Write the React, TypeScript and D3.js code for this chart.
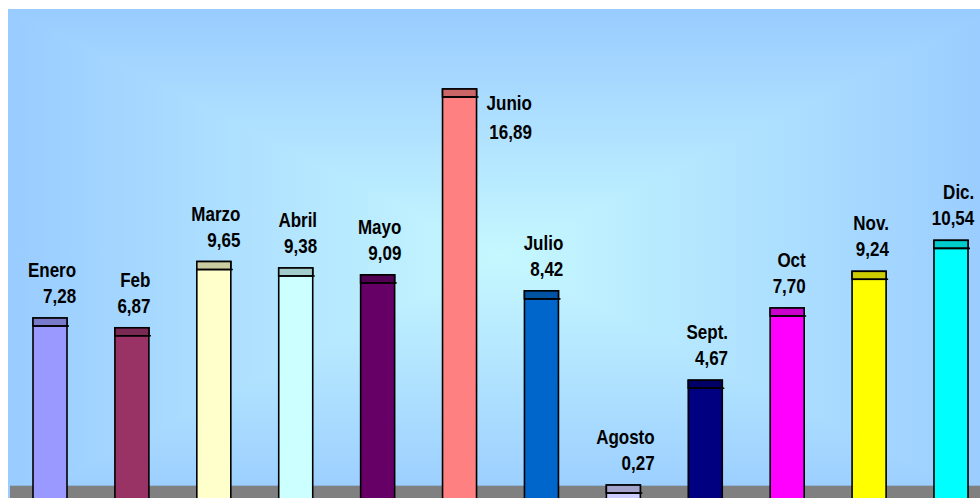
import React from "react";
import * as d3 from "d3";

const months = ["Enero", "Feb", "Marzo", "Abril", "Mayo", "Junio", "Julio", "Agosto", "Sept.", "Oct", "Nov.", "Dic."];
const values = [7.28, 6.87, 9.65, 9.38, 9.09, 16.89, 8.42, 0.27, 4.67, 7.7, 9.24, 10.54];
const colors = ["#9999FF", "#993366", "#FFFFCC", "#CCFFFF", "#660066", "#FF8080", "#0066CC", "#CCCCFF", "#000080", "#FF00FF", "#FFFF00", "#00FFFF"];

const W = 980;
const H = 498;
const FONT = "'Liberation Sans', Arial, sans-serif";
const FS = 20;
const SX = 0.85;

let ctx: CanvasRenderingContext2D | null = null;
function textWidth(s: string) {
  if (!ctx) ctx = document.createElement("canvas").getContext("2d");
  if (!ctx) return s.length * FS * 0.55;
  ctx.font = `bold ${FS}px ${FONT}`;
  return ctx.measureText(s).width * SX;
}

const fmt = (v: number) => d3.format(".2f")(v).replace(".", ",");

// background area (chart area extends past the window)
const BX0 = 8, BY0 = 9, BX1 = 995, BY1 = 505;
const CX = 500, CY = 257;
const EDGE = "#99CCFF";
const MID = "#B2E4FF";
const CENTER = "#C6F8FF";

function Stops() {
  return (
    <>
      <stop offset="0" stopColor={EDGE} />
      <stop offset="0.55" stopColor={MID} />
      <stop offset="1" stopColor={CENTER} />
    </>
  );
}

export default function App() {
  const x = d3.scalePoint<string>().domain(months).range([50, 951]);
  const y = d3.scaleLinear().domain([0, 20]).range([491.5, 491.5 - 20 * 23.83]);
  const bw = 34;
  const cap = 8;
  const maxV = d3.max(values) as number;

  return (
    <svg width={W} height={H} style={{ position: "fixed", left: 0, top: 0, display: "block" }}>
      <defs>
        <linearGradient id="gT" gradientUnits="userSpaceOnUse" x1={0} y1={BY0} x2={0} y2={CY}><Stops /></linearGradient>
        <linearGradient id="gB" gradientUnits="userSpaceOnUse" x1={0} y1={BY1} x2={0} y2={CY}><Stops /></linearGradient>
        <linearGradient id="gL" gradientUnits="userSpaceOnUse" x1={BX0} y1={0} x2={CX} y2={0}><Stops /></linearGradient>
        <linearGradient id="gR" gradientUnits="userSpaceOnUse" x1={BX1} y1={0} x2={CX} y2={0}><Stops /></linearGradient>
        <clipPath id="plotClip"><rect x={BX0} y={BY0} width={W - BX0} height={H - BY0} /></clipPath>
      </defs>
      <rect x={0} y={0} width={W} height={H} fill="#fff" />
      <g clipPath="url(#plotClip)">
        <rect x={BX0} y={BY0} width={BX1 - BX0} height={BY1 - BY0} fill={MID} />
        <polygon points={`${BX0},${BY0} ${BX1},${BY0} ${CX},${CY}`} fill="url(#gT)" stroke="url(#gT)" strokeWidth={0.6} />
        <polygon points={`${BX0},${BY1} ${BX1},${BY1} ${CX},${CY}`} fill="url(#gB)" stroke="url(#gB)" strokeWidth={0.6} />
        <polygon points={`${BX0},${BY0} ${BX0},${BY1} ${CX},${CY}`} fill="url(#gL)" stroke="url(#gL)" strokeWidth={0.6} />
        <polygon points={`${BX1},${BY0} ${BX1},${BY1} ${CX},${CY}`} fill="url(#gR)" stroke="url(#gR)" strokeWidth={0.6} />
      </g>
      <rect x={10} y={486} width={W - 10} height={H - 486} fill="#808080" />
      <line x1={10} x2={W} y1={485.5} y2={485.5} stroke="#8DB6DE" strokeWidth={1} />
      {months.map((m, i) => {
        const cx = x(m) as number;
        const top = y(values[i]);
        const left = cx - bw / 2;
        const c = d3.color(colors[i]) as d3.RGBColor;
        const dark = d3.rgb(c.r * 0.8, c.g * 0.8, c.b * 0.8).toString();
        return (
          <g key={m}>
            <rect x={left} y={top} width={bw} height={H + 10 - top} fill={colors[i]} stroke="#000" strokeWidth={1.6} />
            <rect x={left} y={top} width={bw} height={cap} fill={dark} stroke="#000" strokeWidth={1.6} />
            <line x1={left} x2={left + bw + 2} y1={top + cap} y2={top + cap} stroke="#000" strokeWidth={1.6} />
          </g>
        );
      })}
      {months.map((m, i) => {
        const cx = x(m) as number;
        const top = y(values[i]);
        const label = fmt(values[i]);
        const wMax = Math.max(textWidth(m), textWidth(label));
        let right = cx + wMax / 2 + 2;
        let yName = top - 41;
        let yVal = top - 15;
        if (values[i] === maxV) {
          right = cx + bw / 2 + 10 + wMax;
          yName = top + 21;
          yVal = top + 50;
        }
        return (
          <g key={"l" + m} fontFamily={FONT} fontWeight="bold" fontSize={FS} fill="#000">
            <text transform={`translate(${right},${yName}) scale(${SX},1)`} textAnchor="end">{m}</text>
            <text transform={`translate(${right},${yVal}) scale(${SX},1)`} textAnchor="end">{label}</text>
          </g>
        );
      })}
    </svg>
  );
}
